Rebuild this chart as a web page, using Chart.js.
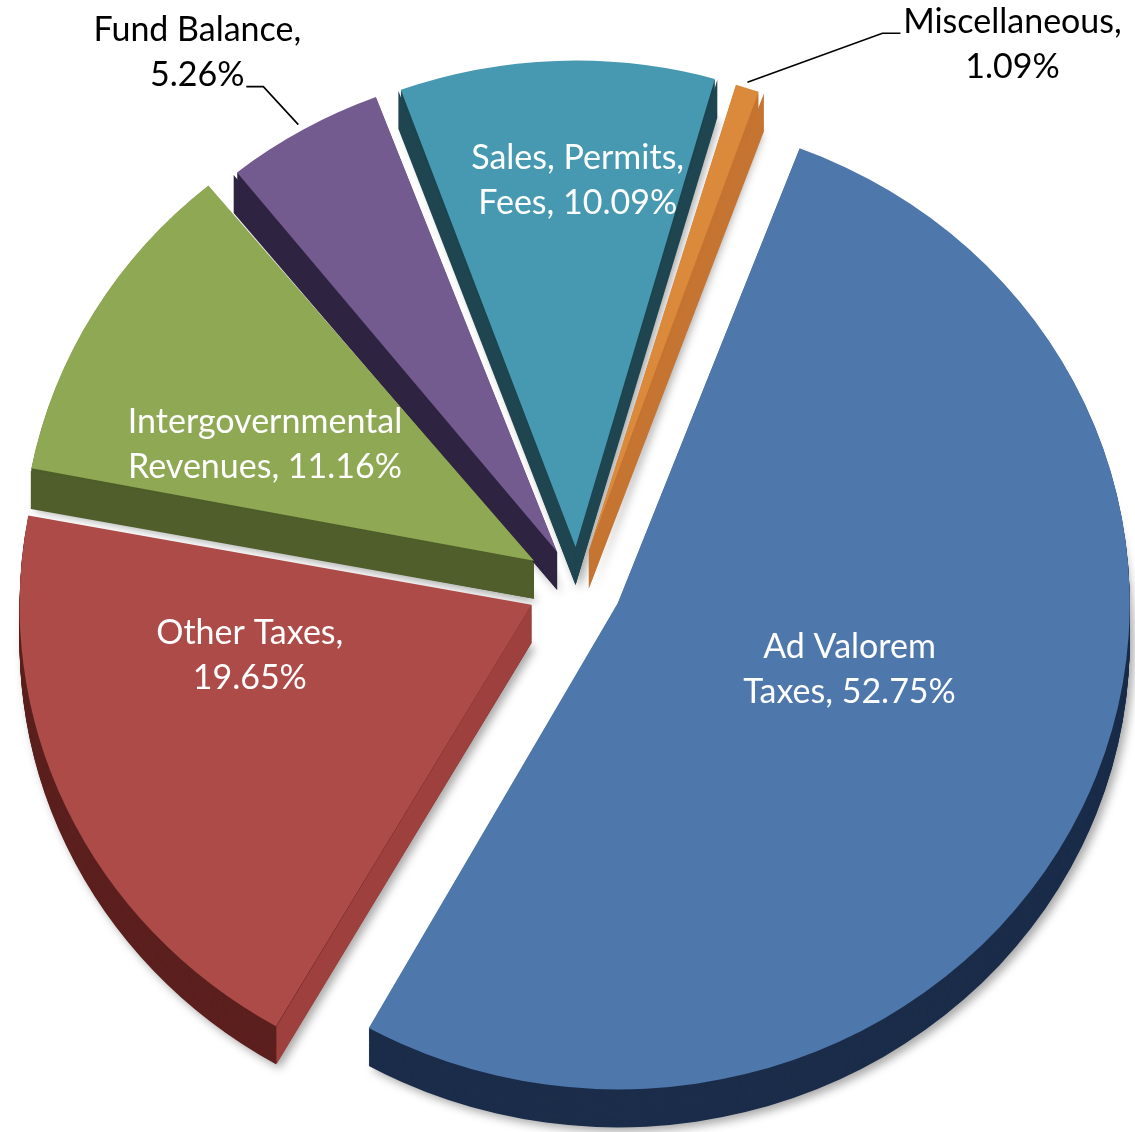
<!DOCTYPE html>
<html>
<head>
<meta charset="utf-8">
<script src="https://cdn.jsdelivr.net/npm/chart.js@4.4.1/dist/chart.umd.min.js"></script>
<style>
  html, body { margin: 0; padding: 0; background: #fff; }
  #wrap { width: 1135px; height: 1132px; }
</style>
</head>
<body>
<div id="wrap"><canvas id="chart"></canvas></div>
<script>
// data, clockwise from the top
var categories = ['Ad Valorem Taxes', 'Other Taxes', 'Intergovernmental Revenues', 'Fund Balance', 'Sales, Permits, Fees', 'Miscellaneous'];
var shares = [52.75, 19.65, 11.16, 5.26, 10.09, 1.09];
var labelLines = [
    ['Ad Valorem', 'Taxes, 52.75%'],
    ['Other Taxes,', '19.65%'],
    ['Intergovernmental', 'Revenues, 11.16%'],
    ['Fund Balance,', '5.26%'],
    ['Sales, Permits,', 'Fees, 10.09%'],
    ['Miscellaneous,', '1.09%']
];
var topColors = ['#4e77ab', '#ad4b48', '#8fa853', '#745b8f', '#4799b1', '#db8a3c'];
var rimColors = ['#1b2d4a', '#5c201f', '#4f5e2a', '#2e2340', '#1e4550', '#c57432'];
var faceColors = ['#1b2d4a', '#9e403d', '#4f5e2a', '#2e2340', '#1e4550', '#c57432'];
var explode = [180, 200, 200, 160, 160, 152];

var TILT = 0.95;    // vertical squash of the pie
var DEPTH = 38;     // thickness of the slices, px on screen

// label placement: fraction of radius and angle nudge (deg) from slice middle
var inside = {
    0: {frac: 0.473, nudge: -8.1},
    1: {frac: 0.56, nudge: 14.1},
    2: {frac: 0.577, nudge: -6.3},
    4: {frac: 0.753, nudge: 2.4}
};
// outside labels with leader lines: start just off the rim, elbow, tail, text block
var outside = {
    3: {gap: 7, nudge: -0.2, elbow: [-35, -38], tail: -17, text: [-49, -57]},
    5: {gap: 6, nudge: -0.2, elbow: [135, -49], tail: 18, text: [112, -11]}
};

var FONT = '34px Lato';
var LINE_H = 45;

function sliceGeom(el) {
    var mid = (el.startAngle + el.endAngle) / 2;
    var off = (el.options.offset || 0) / 4;
    var fix = 1 - Math.sin(Math.min(Math.PI, el.circumference));
    return {x: el.x + Math.cos(mid) * off, y: el.y + Math.sin(mid) * off, mid: mid, r: el.outerRadius + off * fix};
}

function withFill(el, color, fn) {
    var o = el.options;
    el.options = Object.assign({}, o, {backgroundColor: color, borderColor: color, borderWidth: 0});
    fn();
    el.options = o;
}

var tiltPlugin = {
    id: 'tilt3d',
    afterDatasetUpdate: function (chart, args) {
        // chart.js grows the rim of exploded slices; keep every slice on the same radius
        var base = args.meta.controller.outerRadius;
        args.meta.data.forEach(function (el) {
            var off = (el.options.offset || 0) / 4;
            var fix = 1 - Math.sin(Math.min(Math.PI, el.circumference));
            el.outerRadius = base - off * fix;
        });
    },
    beforeDatasetsDraw: function (chart) {
        var ctx = chart.ctx;
        var meta = chart.getDatasetMeta(0);
        var cy = meta.data[0].y;
        var dd = DEPTH / TILT;
        var steps = Math.round(dd);
        ctx.save();
        ctx.translate(0, cy * (1 - TILT));
        ctx.scale(1, TILT);
        // rim: stack darker copies of every slice below the top face
        for (var s = steps; s >= 1; s--) {
            meta.data.forEach(function (el, i) {
                withFill(el, rimColors[i], function () {
                    ctx.save();
                    if (s === steps) {
                        ctx.shadowColor = 'rgba(0,0,0,0.35)';
                        ctx.shadowBlur = 10;
                        ctx.shadowOffsetX = 4;
                        ctx.shadowOffsetY = 4;
                    }
                    ctx.translate(0, s);
                    el.draw(ctx);
                    ctx.restore();
                });
            });
        }
        // cut faces that turn toward the viewer
        meta.data.forEach(function (el, i) {
            var g = sliceGeom(el);
            [[el.startAngle, Math.cos(el.startAngle) < 0], [el.endAngle, Math.cos(el.endAngle) > 0]].forEach(function (edge) {
                if (!edge[1]) return;
                var px = g.x + Math.cos(edge[0]) * g.r;
                var py = g.y + Math.sin(edge[0]) * g.r;
                ctx.fillStyle = faceColors[i];
                ctx.beginPath();
                ctx.moveTo(g.x, g.y);
                ctx.lineTo(px, py);
                ctx.lineTo(px, py + dd);
                ctx.lineTo(g.x, g.y + dd);
                ctx.closePath();
                ctx.fill();
            });
        });
    },
    afterDatasetsDraw: function (chart) {
        chart.ctx.restore();
    },
    afterDraw: function (chart) {
        var ctx = chart.ctx;
        var meta = chart.getDatasetMeta(0);
        var cy = meta.data[0].y;
        var toScreen = function (x, y) { return [x, cy + (y - cy) * TILT]; };
        ctx.save();
        ctx.font = FONT;
        ctx.textAlign = 'center';
        ctx.textBaseline = 'middle';
        meta.data.forEach(function (el, i) {
            var g = sliceGeom(el);
            var lines = labelLines[i];
            if (inside[i]) {
                var cfg = inside[i];
                var a = g.mid + cfg.nudge * Math.PI / 180;
                var p = toScreen(g.x + Math.cos(a) * g.r * cfg.frac, g.y + Math.sin(a) * g.r * cfg.frac);
                ctx.fillStyle = '#ffffff';
                lines.forEach(function (t, j) {
                    ctx.fillText(t, p[0], p[1] + (j - (lines.length - 1) / 2) * LINE_H);
                });
            } else {
                var oc = outside[i];
                var b = g.mid + oc.nudge * Math.PI / 180;
                var st = toScreen(g.x + Math.cos(b) * (g.r + oc.gap), g.y + Math.sin(b) * (g.r + oc.gap));
                var e = [st[0] + oc.elbow[0], st[1] + oc.elbow[1]];
                var end = [e[0] + oc.tail, e[1]];
                ctx.strokeStyle = '#000000';
                ctx.lineWidth = 1.6;
                ctx.beginPath();
                ctx.moveTo(st[0], st[1]);
                ctx.lineTo(e[0], e[1]);
                ctx.lineTo(end[0], end[1]);
                ctx.stroke();
                ctx.fillStyle = '#000000';
                lines.forEach(function (t, j) {
                    ctx.fillText(t, end[0] + oc.text[0], end[1] + oc.text[1] + j * LINE_H);
                });
            }
        });
        ctx.restore();
    }
};

new Chart(document.getElementById('chart'), {
    type: 'pie',
    data: {
        labels: categories,
        datasets: [{
            data: shares,
            backgroundColor: topColors,
            borderWidth: 0,
            offset: explode,
            clip: false
        }]
    },
    options: {
        responsive: true,
        maintainAspectRatio: false,
        animation: false,
        events: [],
        rotation: 20,
        radius: 512,
        layout: {padding: {top: 38, left: 19, right: 0, bottom: 0}},
        plugins: {
            legend: {display: false},
            tooltip: {enabled: false}
        }
    },
    plugins: [tiltPlugin]
});
</script>
</body>
</html>
